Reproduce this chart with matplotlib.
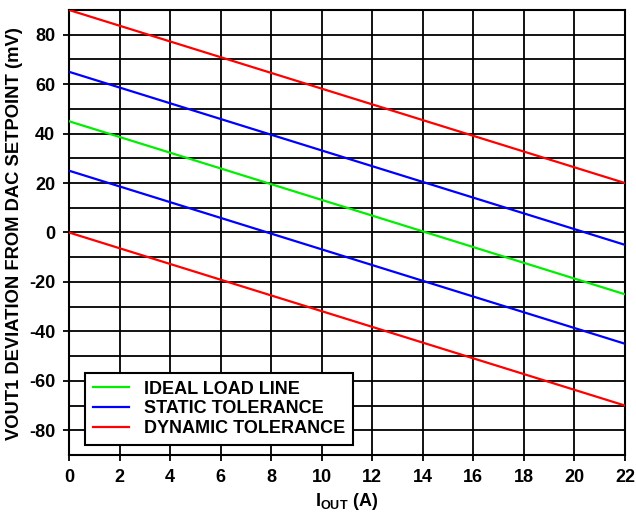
import matplotlib
matplotlib.use("Agg")
import matplotlib.pyplot as plt

plt.rcParams['font.family'] = ['Liberation Sans', 'DejaVu Sans']
plt.rcParams['font.weight'] = 'bold'
plt.rcParams['axes.unicode_minus'] = False
plt.rcParams['mathtext.fontset'] = 'custom'
plt.rcParams['mathtext.bf'] = 'Liberation Sans:bold'
plt.rcParams['mathtext.rm'] = 'Liberation Sans:bold'

# load current (A) at the two ends of each line
i_out = [0, 22]

# deviation from DAC setpoint (mV)
ideal_load_line = [45, -25]
static_upper = [65, -5]
static_lower = [25, -45]
dynamic_upper = [90, 20]
dynamic_lower = [0, -70]

x_ticks = list(range(0, 23, 2))
y_ticks = list(range(-80, 81, 20))

fig = plt.figure(figsize=(6.36, 5.12), dpi=100)
ax = fig.add_axes([0.1085, 0.1113, 0.8742, 0.8692])

ax.plot(i_out, ideal_load_line, color='#00ee00', lw=1.6, label='IDEAL LOAD LINE', zorder=3)
ax.plot(i_out, static_upper, color='#0000ff', lw=1.6, label='STATIC TOLERANCE', zorder=3)
ax.plot(i_out, static_lower, color='#0000ff', lw=1.6, zorder=3)
ax.plot(i_out, dynamic_upper, color='#ff0000', lw=1.6, label='DYNAMIC TOLERANCE', zorder=3)
ax.plot(i_out, dynamic_lower, color='#ff0000', lw=1.6, zorder=3)

ax.set_xlim(0, 22)
ax.set_ylim(-90, 90)
ax.set_xticks(x_ticks)
ax.set_yticks(y_ticks)
ax.set_yticks(list(range(-90, 91, 10)), minor=True)
ax.grid(True, which='both', color='black', lw=1.3)
ax.tick_params(which='major', direction='out', length=4, width=1.3, labelsize=13,
               colors='black', pad=6)
ax.tick_params(which='minor', length=0)
for s in ax.spines.values():
    s.set_linewidth(1.5)

ax.set_xlabel(r'$\mathbf{I_{OUT}}$ (A)', fontsize=13, fontweight='bold')
ax.xaxis.set_label_coords(0.5, -0.08)
ax.set_ylabel('VOUT1 DEVIATION FROM DAC SETPOINT (mV)', fontsize=13.2, fontweight='bold')
ax.yaxis.set_label_coords(-0.083, 0.497)

leg = ax.legend(loc='lower left', bbox_to_anchor=(0.029, 0.022), fontsize=13,
                frameon=True, fancybox=False, framealpha=1, edgecolor='black',
                handlelength=2.0, handletextpad=0.8, borderpad=0.45, labelspacing=0.15,
                borderaxespad=0)
leg.get_frame().set_linewidth(1.5)
leg.set_zorder(5)

fig.savefig('out.png', dpi=100)
